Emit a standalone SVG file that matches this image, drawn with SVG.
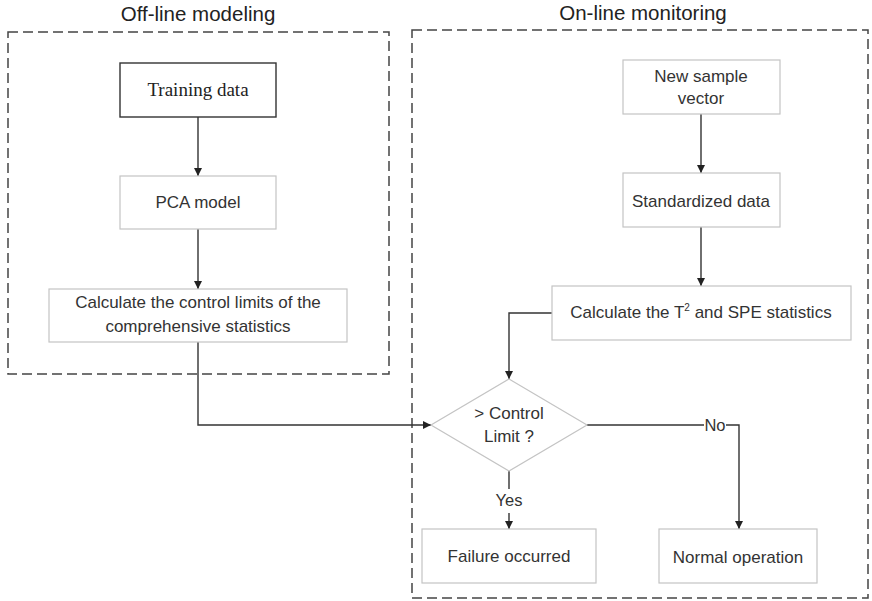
<svg xmlns="http://www.w3.org/2000/svg" width="872" height="601" viewBox="0 0 872 601">
<style>
  .title { font-family: "Liberation Sans", Arial, sans-serif; font-size: 20.5px; fill: #222; text-anchor: middle; }
  .lbl { font-family: "Liberation Sans", Arial, sans-serif; font-size: 17px; fill: #333; text-anchor: middle; }
  .small { font-family: "Liberation Sans", Arial, sans-serif; font-size: 16.5px; fill: #333; text-anchor: middle; }
  .serif { font-family: "Liberation Serif", "Times New Roman", serif; font-size: 19px; fill: #222; text-anchor: middle; }
  .box { fill: #fff; stroke: #c4c4c4; stroke-width: 1.2; }
  .dark { fill: #fff; stroke: #333; stroke-width: 1.4; }
  .group { fill: none; stroke: #444; stroke-width: 1.5; stroke-dasharray: 10 5; }
  .edge { fill: none; stroke: #333; stroke-width: 1.4; }
</style>
<defs>
  <marker id="arr" viewBox="0 0 10 10" refX="10" refY="5" markerWidth="8" markerHeight="8" markerUnits="userSpaceOnUse" orient="auto">
    <path d="M0,0 L10,5 L0,10 z" fill="#222"/>
  </marker>
</defs>
<rect width="872" height="601" fill="#fff"/>

<g id="offline-group">
  <rect class="group" x="8" y="32" width="381" height="342"/>
  <text class="title" x="198" y="21">Off-line modeling</text>
</g>
<g id="online-group">
  <rect class="group" x="412" y="30" width="456" height="568"/>
  <text class="title" x="643" y="20">On-line monitoring</text>
</g>

<g id="connectors">
  <line class="edge" x1="198" y1="117" x2="198" y2="176" marker-end="url(#arr)"/>
  <line class="edge" x1="198" y1="229" x2="198" y2="289" marker-end="url(#arr)"/>
  <polyline class="edge" points="198,342 198,425 431,425" marker-end="url(#arr)"/>
  <line class="edge" x1="701" y1="114" x2="701" y2="173" marker-end="url(#arr)"/>
  <line class="edge" x1="701" y1="227" x2="701" y2="286" marker-end="url(#arr)"/>
  <polyline class="edge" points="552,313 509,313 509,379" marker-end="url(#arr)"/>
  <line class="edge" x1="509" y1="471" x2="509" y2="489"/>
  <line class="edge" x1="509" y1="513" x2="509" y2="529" marker-end="url(#arr)"/>
  <text class="small" x="509" y="506">Yes</text>
  <line class="edge" x1="587" y1="425" x2="704" y2="425"/>
  <text class="small" x="715" y="431">No</text>
  <polyline class="edge" points="726,425 739,425 739,529" marker-end="url(#arr)"/>
</g>

<g id="training-data">
  <rect class="dark" x="120" y="63" width="156" height="54"/>
  <text class="serif" x="198" y="96">Training data</text>
</g>
<g id="pca-model">
  <rect class="box" x="120" y="176" width="156" height="53"/>
  <text class="lbl" x="198" y="208">PCA model</text>
</g>
<g id="calc-limits">
  <rect class="box" x="49" y="289" width="298" height="53"/>
  <text class="lbl" x="198" y="308">Calculate the control limits of the</text>
  <text class="lbl" x="198" y="332">comprehensive statistics</text>
</g>
<g id="new-sample">
  <rect class="box" x="623" y="60" width="157" height="54"/>
  <text class="lbl" x="701" y="82">New sample</text>
  <text class="lbl" x="701" y="104">vector</text>
</g>
<g id="standardized">
  <rect class="box" x="623" y="173" width="157" height="54"/>
  <text class="lbl" x="701" y="207">Standardized data</text>
</g>
<g id="calc-stats">
  <rect class="box" x="552" y="286" width="299" height="54"/>
  <text class="lbl" x="701" y="318">Calculate the T<tspan dy="-7" font-size="10">2</tspan><tspan dy="7"> and SPE statistics</tspan></text>
</g>
<g id="decision">
  <polygon class="box" points="509,379 587,425 509,471 431,425"/>
  <text class="lbl" x="509" y="419">&gt; Control</text>
  <text class="lbl" x="509" y="442">Limit ?</text>
</g>
<g id="failure">
  <rect class="box" x="422" y="529" width="174" height="54"/>
  <text class="lbl" x="509" y="562">Failure occurred</text>
</g>
<g id="normal">
  <rect class="box" x="659" y="529" width="158" height="54"/>
  <text class="lbl" x="738" y="563">Normal operation</text>
</g>
</svg>
